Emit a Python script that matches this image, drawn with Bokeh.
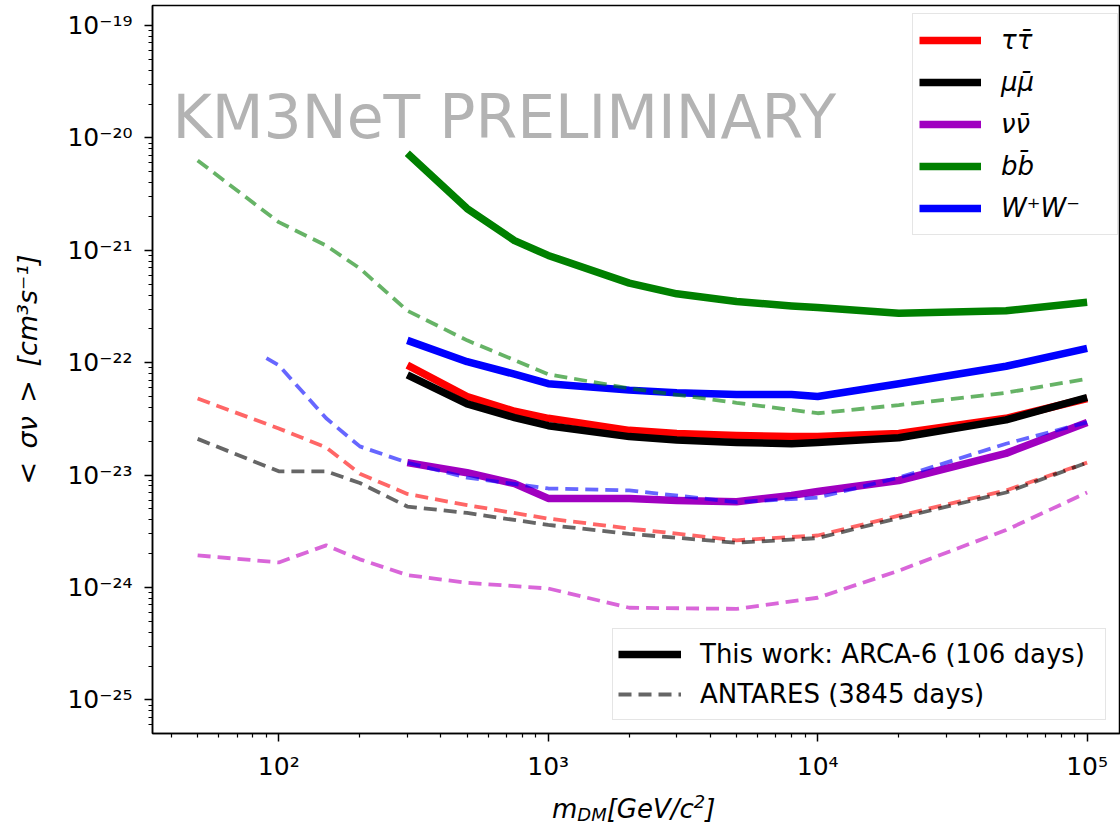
from bokeh.plotting import figure
from bokeh.layouts import column
from bokeh.models import (Range1d, FixedTicker, CustomJSTickFormatter, Legend,
                          LegendItem, Label, Div)
from bokeh.embed import file_html
from bokeh.resources import INLINE

FONT = "DejaVu Sans"

# ---------------- data ----------------
# This work: ARCA-6 (106 days), dark-matter mass in GeV/c^2
mass_arca = [300, 500, 750, 1000, 2000, 3000, 5000, 8000, 10000, 20000, 50000, 100000]
arca_tautau = [9.5e-23, 5.0e-23, 3.7e-23, 3.2e-23, 2.5e-23, 2.35e-23, 2.25e-23, 2.2e-23, 2.2e-23, 2.35e-23, 3.2e-23, 4.8e-23]
arca_mumu = [7.8e-23, 4.3e-23, 3.25e-23, 2.75e-23, 2.2e-23, 2.05e-23, 1.95e-23, 1.9e-23, 1.95e-23, 2.15e-23, 3.1e-23, 4.9e-23]
arca_nunu = [1.29e-23, 1.05e-23, 8.4e-24, 6.2e-24, 6.2e-24, 5.95e-24, 5.8e-24, 6.6e-24, 7.15e-24, 8.95e-24, 1.56e-23, 2.94e-23]
arca_bb = [7.3e-21, 2.35e-21, 1.22e-21, 9.0e-22, 5.1e-22, 4.1e-22, 3.5e-22, 3.2e-22, 3.1e-22, 2.75e-22, 2.9e-22, 3.45e-22]
arca_ww = [1.58e-22, 1.02e-22, 7.9e-23, 6.5e-23, 5.7e-23, 5.4e-23, 5.2e-23, 5.2e-23, 5.0e-23, 6.5e-23, 9.3e-23, 1.34e-22]

# ANTARES (3845 days)
mass_ant = [50, 100, 150, 200, 300, 500, 1000, 2000, 5000, 10000, 20000, 50000, 100000]
mass_ant_ww = [90, 100, 150, 200, 300, 500, 1000, 2000, 5000, 10000, 20000, 50000, 100000]
ant_tautau = [4.8e-23, 2.6e-23, 1.76e-23, 1.03e-23, 6.8e-24, 5.4e-24, 4.1e-24, 3.35e-24, 2.63e-24, 2.9e-24, 4.35e-24, 7.3e-24, 1.29e-23]
ant_mumu = [2.1e-23, 1.08e-23, 1.08e-23, 8.5e-24, 5.25e-24, 4.6e-24, 3.6e-24, 3.0e-24, 2.5e-24, 2.75e-24, 4.15e-24, 7.0e-24, 1.29e-23]
ant_nunu = [1.93e-24, 1.67e-24, 2.37e-24, 1.78e-24, 1.29e-24, 1.1e-24, 9.8e-25, 6.6e-25, 6.45e-25, 8.1e-25, 1.41e-24, 3.24e-24, 7.0e-24]
ant_bb = [6.3e-21, 1.78e-21, 1.1e-21, 6.9e-22, 2.9e-22, 1.58e-22, 7.9e-23, 5.9e-23, 4.4e-23, 3.55e-23, 4.2e-23, 5.4e-23, 7.2e-23]
ant_ww = [1.1e-22, 9.5e-23, 3.2e-23, 1.8e-23, 1.29e-23, 9.5e-24, 7.6e-24, 7.3e-24, 5.75e-24, 6.3e-24, 9.5e-24, 1.9e-23, 2.95e-23]

channel_labels = ["ττ̄", "μμ̄", "νν̄", "bb̄", "W⁺W⁻"]
channel_colors = ["red", "black", "#a000c0", "green", "blue"]
channel_dash_colors = ["red", "black", "#c000c0", "green", "blue"]
dataset_labels = ["This work: ARCA-6 (106 days)", "ANTARES (3845 days)"]

x_major = [1e2, 1e3, 1e4, 1e5]
y_major = [1e-25, 1e-24, 1e-23, 1e-22, 1e-21, 1e-20, 1e-19]

# ---------------- figure ----------------
p = figure(width=1120, height=790, x_axis_type="log", y_axis_type="log",
           x_range=Range1d(34.0, 1.33e5), y_range=Range1d(5.02e-26, 1.507e-19),
           output_backend="svg", toolbar_location=None,
           min_border_left=152, min_border_right=0, min_border_top=5,
           min_border_bottom=57)
p.background_fill_color = "white"
p.border_fill_color = "white"
p.outline_line_color = "black"
p.outline_line_width = 1.5
p.xgrid.visible = False
p.ygrid.visible = False

x_minor = [m * 10 ** e for e in range(1, 6) for m in range(2, 10)]
y_minor = [m * 10.0 ** e for e in range(-26, -18) for m in range(2, 10)]
p.xaxis.ticker = FixedTicker(ticks=x_major, minor_ticks=x_minor)
p.yaxis.ticker = FixedTicker(ticks=y_major, minor_ticks=y_minor)

fmt_code = """
const e = Math.round(Math.log10(tick));
const sup = {'-':'\u207b','0':'\u2070','1':'\u00b9','2':'\u00b2','3':'\u00b3',
             '4':'\u2074','5':'\u2075','6':'\u2076','7':'\u2077','8':'\u2078','9':'\u2079'};
return '10' + String(e).split('').map(c => sup[c]).join('');
"""
for ax in (p.xaxis[0], p.yaxis[0]):
    ax.formatter = CustomJSTickFormatter(code=fmt_code)
    ax.major_label_text_font = FONT
    ax.major_label_text_font_size = "25px"
    ax.major_label_text_color = "black"
    ax.axis_line_width = 1.5
    ax.axis_line_color = "black"
    ax.major_tick_in = 0
    ax.major_tick_out = 8
    ax.minor_tick_in = 0
    ax.minor_tick_out = 4
    ax.major_tick_line_width = 1.5
    ax.minor_tick_line_width = 1.2

p.xaxis.major_label_standoff = 10
p.yaxis.major_label_standoff = 12
p.yaxis.axis_label = "<\u2002σν\u2002>\u2002[cm³s⁻¹]"
p.yaxis.axis_label_text_font = FONT
p.yaxis.axis_label_text_font_size = "27px"
p.yaxis.axis_label_text_font_style = "italic"
p.yaxis.axis_label_text_color = "black"
p.yaxis.axis_label_standoff = 21

# ---------------- curves ----------------
solid_series = [arca_tautau, arca_mumu, arca_nunu, arca_bb, arca_ww]
ant_series = [(mass_ant, ant_tautau), (mass_ant, ant_mumu), (mass_ant, ant_nunu),
              (mass_ant, ant_bb), (mass_ant_ww, ant_ww)]

solid_renderers = []
for vals, col in zip(solid_series, channel_colors):
    r = p.line(mass_arca, vals, line_color=col, line_width=7.5, line_join="round")
    solid_renderers.append(r)

dash_renderers = []
for (mx, vals), col in zip(ant_series, channel_dash_colors):
    r = p.line(mx, vals, line_color=col, line_alpha=0.6, line_width=3.8,
               line_dash="13 7")
    dash_renderers.append(r)

leg1 = Legend(items=[LegendItem(label=lab, renderers=[r])
                     for lab, r in zip(channel_labels, solid_renderers)],
              location=(760, 498))
# black solid (mu mu) and black dashed (ANTARES mu mu) serve as the style samples
leg2 = Legend(items=[LegendItem(label=dataset_labels[0], renderers=[solid_renderers[1]]),
                     LegendItem(label=dataset_labels[1], renderers=[dash_renderers[1]])],
              location=(460, 13))
for lg in (leg1, leg2):
    lg.label_text_font = FONT
    lg.label_text_font_size = "26px"
    lg.label_text_color = "black"
    lg.border_line_color = "#cccccc"
    lg.border_line_width = 1.5
    lg.background_fill_alpha = 0.8
    lg.margin = 0
    lg.glyph_height = 40
    lg.label_height = 40
leg1.label_text_font_style = "italic"
leg1.padding = 6
leg1.spacing = 2
leg1.glyph_width = 62
leg1.label_standoff = 20
leg1.label_width = 110
leg2.padding = 5
leg2.spacing = 0
leg2.glyph_width = 63
leg2.label_standoff = 19
leg2.label_width = 400
p.add_layout(leg1, "center")
p.add_layout(leg2, "center")

# ---------------- texts ----------------
p.add_layout(Label(x=20, y=617, x_units="screen", y_units="screen",
                   text="KM3NeT PRELIMINARY", text_font=FONT,
                   text_font_size="60px", text_color="#b3b3b3",
                   text_baseline="middle"))

# x-axis label  m_DM[GeV/c²]  (as HTML text so the subscript can be shown)
xlabel_html = (
    '<div style="position:relative;width:1120px;height:35px;">'
    '<span style="position:absolute;left:552px;top:6px;white-space:nowrap;'
    "font-family:'DejaVu Sans';font-size:26px;line-height:26px;"
    'font-style:italic;color:black;">'
    'm<span style="font-size:18px;position:relative;top:3px;">DM</span>'
    '[GeV/c<span style="font-size:18px;position:relative;top:-10px;">2</span>]'
    '</span></div>'
)
xlabel = Div(text=xlabel_html, width=1120, height=35, margin=0)

layout = column(p, xlabel, spacing=0)

open("out.html", "w").write(file_html(layout, INLINE))
